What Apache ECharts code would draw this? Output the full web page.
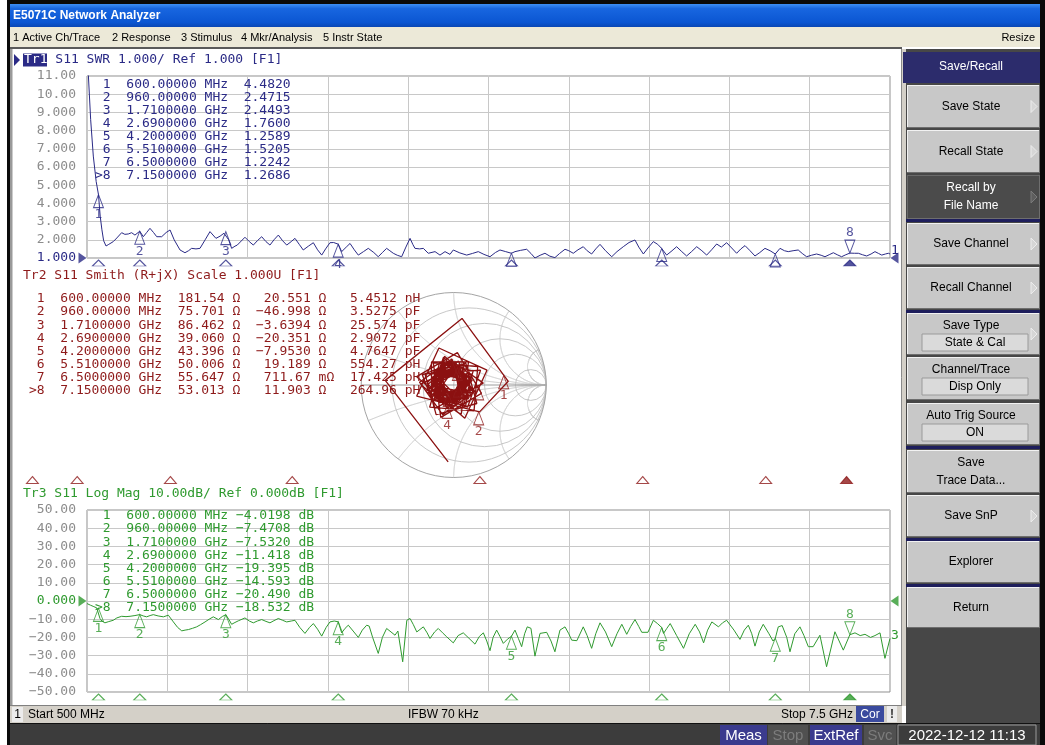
<!DOCTYPE html>
<html><head><meta charset="utf-8">
<script src="https://cdn.jsdelivr.net/npm/echarts@6/dist/echarts.min.js"></script>
<style>html,body{margin:0;padding:0;background:#fff;overflow:hidden}#c{width:1045px;height:745px}</style>
</head><body><div id="c"></div>
<script>
// ---------------- DATA ----------------
const mkNum = ['1','2','3','4','5','6','7','8'];
const mkFreq = [600, 960, 1710, 2690, 4200, 5510, 6500, 7150];           // MHz
const mkSwr = [4.4820, 2.4715, 2.4493, 1.7600, 1.2589, 1.5205, 1.2242, 1.2686];
const mkLogMag = [-4.0198, -7.4708, -7.5320, -11.418, -19.395, -14.593, -20.490, -18.532];
const mkR = [181.54, 75.701, 86.462, 39.060, 43.396, 50.006, 55.647, 53.013];
const mkX = [20.551, -46.998, -3.6394, -20.351, -7.9530, 19.189, 0.71167, 11.903];
const mkLC = [5.4512, 3.5275, 25.574, 2.9072, 4.7647, 554.27, 17.425, 264.96];
const mkLCUnit = ['nH','pF','pF','pF','pF','pH','pH','pH'];
const mkGammaRe = [0.54, 0.27, 0.27, -0.07, -0.06, 0.04, 0.05, 0.04];
const mkGammaIm = [0.10, -0.29, -0.02, -0.22, -0.09, 0.19, 0.01, 0.11];

const swrTicks = ['1.000','2.000','3.000','4.000','5.000','6.000','7.000','8.000','9.000','10.00','11.00'];
const lmTicks = ['\u221250.00','\u221240.00','\u221230.00','\u221220.00','\u221210.00','0.000','10.00','20.00','30.00','40.00','50.00'];
const smithGridR = [0.2, 0.5, 1, 2, 5];
const smithGridX = [0.2, 0.5, 1, 2, 5];

const swrFreq = [500,532,555,580,600,615,630,645,666,690,729,760,802,830,860,889,918,960,991,1020,1049,1080,1108,1151,1190,1224,1260,1311,1354,1385,1412,1450,1485,1530,1572,1624,1660,1694,1710,1735,1761,1790,1810,1877,1915,1950,1985,2023,2060,2095,2130,2168,2205,2241,2280,2313,2350,2385,2430,2473,2510,2546,2580,2618,2650,2690,2720,2760,2793,2830,2865,2910,2952,3000,3039,3075,3112,3140,3170,3205,3243,3280,3316,3340,3359,3400,3432,3475,3534,3577,3621,3664,3693,3750,3810,3860,3911,3960,4013,4060,4100,4150,4200,4231,4280,4333,4370,4405,4450,4492,4535,4579,4620,4667,4700,4739,4780,4826,4860,4899,4935,4972,5020,5074,5120,5175,5225,5277,5310,5350,5390,5437,5475,5510,5553,5600,5640,5685,5727,5770,5815,5860,5902,5945,5989,6030,6076,6120,6163,6200,6236,6280,6323,6365,6410,6455,6500,6541,6580,6613,6655,6700,6735,6773,6815,6860,6900,6933,6970,7006,7040,7078,7115,7150,7190,7224,7260,7297,7335,7369,7400,7428,7460,7486,7500];
const swrVal = [12.5,8.6,6.6,5.2,4.48,3.3,2.55,1.95,1.66,1.75,1.90,2.10,2.39,2.30,2.32,2.39,2.26,2.47,2.17,2.40,2.63,2.40,2.17,2.17,2.40,2.54,2.00,1.44,1.29,1.40,1.53,1.50,1.53,2.00,2.45,2.08,2.20,2.36,2.45,2.00,1.53,1.65,1.71,2.14,1.90,1.71,1.95,2.17,1.90,1.71,2.00,2.26,1.95,1.71,1.90,2.08,1.75,1.44,1.65,1.84,1.45,1.16,1.50,1.84,1.85,1.76,1.35,1.60,1.80,1.45,1.16,1.35,1.53,1.30,1.07,1.30,1.53,1.40,1.26,1.15,1.07,1.60,2.08,1.75,1.53,1.50,1.53,1.26,1.35,1.16,1.35,1.20,1.44,1.28,1.16,1.25,1.35,1.20,1.07,1.30,1.44,1.35,1.26,1.35,1.42,1.48,1.25,1.00,1.15,1.26,1.10,1.02,1.25,1.48,1.40,1.26,1.45,1.62,1.40,1.22,1.50,1.75,1.40,1.07,1.35,1.62,1.85,1.99,1.60,1.22,1.55,1.90,1.75,1.52,1.16,1.40,1.62,1.35,1.11,1.35,1.62,1.40,1.16,1.45,1.77,1.60,1.84,1.55,1.26,1.50,1.68,1.40,1.11,1.30,1.53,1.40,1.22,1.53,1.40,1.35,1.40,1.44,1.25,1.07,1.15,1.22,1.15,1.07,1.18,1.29,1.18,1.07,1.18,1.27,1.26,1.26,1.18,1.11,1.22,1.35,1.25,1.16,1.22,1.26,1.22];

const lmFreq = [500,530,560,585,600,613,630,656,690,729,760,802,840,875,918,960,990,1020,1050,1078,1120,1166,1209,1253,1290,1326,1355,1384,1420,1456,1490,1529,1565,1601,1645,1680,1710,1735,1761,1790,1819,1877,1915,1950,1985,2023,2060,2095,2130,2168,2205,2241,2280,2313,2355,2400,2440,2473,2510,2546,2585,2618,2655,2690,2720,2750,2778,2820,2865,2900,2938,2960,2990,3039,3075,3112,3150,3185,3210,3252,3288,3316,3345,3375,3432,3465,3490,3530,3562,3600,3636,3693,3735,3780,3830,3882,3920,3955,3985,4013,4040,4071,4100,4129,4165,4200,4231,4260,4289,4315,4338,4370,4405,4449,4507,4545,4579,4623,4667,4700,4725,4770,4826,4860,4899,4935,4972,5020,5074,5120,5162,5205,5240,5277,5310,5336,5390,5437,5475,5510,5526,5555,5584,5640,5700,5750,5802,5840,5875,5910,5947,6005,6040,6076,6140,6192,6230,6265,6295,6323,6360,6395,6445,6480,6500,6526,6560,6600,6628,6670,6715,6750,6788,6830,6889,6947,7020,7093,7150,7195,7240,7282,7330,7369,7413,7456,7500];
const lmVal = [-1.4,-2.3,-3.1,-3.8,-4.02,-9.6,-11.0,-12.0,-11.3,-10.6,-9.3,-8.4,-8.6,-8.4,-8.0,-7.47,-8.2,-8.7,-8.0,-7.5,-8.2,-8.7,-7.8,-11.5,-14.5,-16.4,-16.0,-15.7,-15.0,-14.2,-13.0,-11.5,-10.0,-8.7,-10.2,-8.5,-7.53,-10.0,-12.8,-11.8,-10.9,-9.3,-11.0,-12.0,-11.0,-10.2,-11.2,-12.0,-10.8,-9.6,-10.6,-11.5,-11.0,-10.6,-14.5,-17.8,-14.5,-12.4,-15.5,-19.3,-14.5,-11.5,-11.0,-11.42,-17.5,-15.0,-13.3,-16.5,-20.0,-16.0,-13.3,-13.8,-20.0,-28.8,-20.0,-15.1,-17.0,-18.8,-16.5,-33.4,-10.6,-9.6,-13.0,-17.0,-14.2,-17.5,-20.6,-17.0,-15.1,-17.5,-19.7,-23.0,-19.0,-17.5,-20.5,-23.7,-19.5,-17.5,-22.0,-27.3,-20.0,-16.0,-19.5,-23.3,-21.0,-19.4,-16.0,-20.5,-25.1,-18.0,-14.2,-15.0,-30.3,-17.8,-17.2,-22.0,-27.9,-16.0,-14.2,-18.0,-21.5,-21.8,-14.2,-19.0,-26.0,-18.0,-12.0,-17.0,-25.1,-18.0,-12.8,-18.3,-14.0,-10.2,-14.0,-17.2,-17.2,-10.6,-12.5,-14.6,-17.8,-15.0,-12.4,-19.0,-26.0,-18.0,-12.8,-17.0,-23.0,-16.0,-11.5,-14.2,-12.0,-10.6,-16.0,-21.1,-16.0,-13.3,-18.0,-24.8,-17.0,-12.8,-18.0,-22.0,-20.5,-14.2,-13.5,-20.0,-27.9,-18.0,-14.2,-19.0,-25.1,-25.1,-18.8,-36.1,-16.9,-27.0,-18.53,-17.5,-19.0,-18.3,-20.0,-19.0,-17.5,-31.5,-20.6];

const smithRe = [-0.06,-0.74,0.09,0.59,0.28,
 -0.40,-0.16,0.36,0.12, -0.40,0.04,0.30,-0.14, -0.22,0.26,0.22,-0.26, -0.10,0.20,-0.06,-0.36,
 0.13,0.25,-0.19,-0.31, 0.29,0.15,-0.25,-0.11, 0.23,-0.12,-0.37,-0.02, 0.16,-0.24,-0.24,0.16,
 0.08,-0.26,-0.02,0.32, -0.20,-0.34,0.02,0.16, -0.25,-0.15,0.21,0.11, -0.30,-0.03,0.20,-0.07,
 -0.18,0.15,0.18,-0.15, -0.12,0.18,0.00,-0.30, 0.05,0.19,-0.11,-0.25, 0.19,0.13,-0.21,-0.15,
 0.15,-0.07,-0.29,-0.07, 0.17,-0.15,-0.21,0.11, 0.02,-0.25,-0.12,0.15, -0.06,-0.21,0.06,0.21,
 -0.21,-0.19,0.09,0.07, -0.24,-0.05,0.18,-0.01, -0.18,0.08,0.15,-0.11, -0.16,0.11,0.02,-0.25,
 0.01,0.16,-0.05,-0.20, 0.09,0.09,-0.17,-0.17, 0.17,0.03,-0.17,-0.03, 0.10,-0.14,-0.22,0.02,
 0.06,-0.16,-0.10,0.12, -0.06,-0.21,-0.03,0.13, -0.10,-0.12,0.10,0.12, -0.21,-0.09,0.11,-0.01,
 -0.15,0.03,0.11,-0.07, -0.14,0.07,0.04,-0.17, 0.00,0.13,0.00,-0.13, 0.05,0.09,-0.11,-0.15, 0.04];
const smithIm = [-0.83,0.05,0.72,0.04,-0.29,
 -0.12,0.40,0.16,-0.36, 0.09,0.35,-0.09,-0.35, 0.24,0.20,-0.28,-0.24, 0.31,0.05,-0.25,0.01,
 0.24,-0.20,-0.32,0.12, 0.16,-0.24,-0.10,0.30, -0.07,-0.32,0.03,0.28, -0.15,-0.15,0.25,0.25,
 -0.32,-0.08,0.26,0.02, -0.25,0.11,0.25,-0.11, -0.11,0.25,0.15,-0.21, -0.01,0.22,-0.05,-0.28,
 0.18,0.21,-0.12,-0.15, 0.24,0.07,-0.24,-0.07, 0.26,-0.04,-0.18,0.12, 0.12,-0.22,-0.16,0.18,
 0.02,-0.20,0.02,0.24, -0.13,-0.19,0.13,0.19, -0.17,-0.04,0.23,0.10, -0.23,0.04,0.19,-0.08,
 -0.12,0.16,0.14,-0.14, 0.02,0.25,0.06,-0.17, 0.07,0.14,-0.13,-0.20, 0.18,0.09,-0.18,-0.09,
 0.21,0.00,-0.15,0.06, 0.12,-0.14,-0.14,0.12, 0.05,-0.15,-0.01,0.19, -0.08,-0.16,0.08,0.16,
 -0.10,-0.04,0.18,0.12, -0.19,0.00,0.15,0.00, -0.10,0.12,0.14,-0.08, -0.01,0.19,0.07,-0.13,
 0.04,0.12,-0.06,-0.14, 0.14,0.11,-0.10,-0.07, 0.17,0.04,-0.09,0.04, 0.15,-0.05,-0.09,0.11, 0.11];

// ---------------- STYLE ----------------
const MONO = '"DejaVu Sans Mono", monospace';
const SANS = '"Liberation Sans", Arial, sans-serif';
const F13 = '13px ' + MONO;
const F12 = '12px ' + SANS;
const F11 = '11px ' + SANS;
const NAVY = '#2a2a86', RED = '#8e1a1a', GREEN = '#2f9a2f', GRIDC = '#c8c8c8', LBL = '#8c8c8c';
const CW = 7.827;
const UP = 'path://M5,0L10,13L0,13Z', DOWN = 'path://M0,0L10,0L5,13Z';
const STIM = 'path://M6,0L12,7L0,7Z', REFR = 'path://M0,0L8,5.5L0,11Z', REFL = 'path://M8,0L0,5.5L8,11Z';

function freqStr(f){ return f < 1000 ? f.toFixed(5) + ' MHz' : (f/1000).toFixed(7) + ' GHz'; }
function n5(v){ return v.toPrecision(5).replace('-', '\u2212'); }

// ---------------- GRAPHIC CHROME ----------------
const G = [];
function R(x,y,w,h,fill,stroke){ G.push({type:'rect', silent:true, z:1, shape:{x:x,y:y,width:w,height:h}, style:{fill:fill, stroke:stroke||null, lineWidth:stroke?1:0}}); }
function T(x,y,text,font,fill,align){ G.push({type:'text', silent:true, z:6, style:{x:x,y:y,text:text,font:font,fill:fill, textAlign:align||'left', textVerticalAlign:'middle'}}); }
function L(x1,y1,x2,y2,stroke){ G.push({type:'line', silent:true, z:2, shape:{x1:x1,y1:y1,x2:x2,y2:y2}, style:{stroke:stroke, lineWidth:1}}); }
function P(pts,fill,stroke){ G.push({type:'polygon', silent:true, z:3, shape:{points:pts}, style:{fill:fill, stroke:stroke||null, lineWidth:1}}); }

// window frame
R(7,0,1038,4,'#0a0a0a'); R(7,0,3,745,'#0a0a0a'); R(1040,0,5,745,'#0a0a0a');
G.push({type:'rect', silent:true, z:1, shape:{x:10,y:4,width:1030,height:23}, style:{fill:{type:'linear',x:0,y:0,x2:0,y2:1,colorStops:[{offset:0,color:'#3d8ff6'},{offset:0.2,color:'#1866e0'},{offset:0.8,color:'#0b56d2'},{offset:1,color:'#0a47b4'}]}}});
T(13,16,'E5071C Network Analyzer','bold 12px '+SANS,'#ffffff');
R(10,27,1030,20,'#ece9d8');
T(13,38,'1 Active Ch/Trace',F11,'#000'); T(112,38,'2 Response',F11,'#000'); T(181,38,'3 Stimulus',F11,'#000');
T(241,38,'4 Mkr/Analysis',F11,'#000'); T(323,38,'5 Instr State',F11,'#000'); T(1035,38,'Resize',F11,'#000','right');
R(10,47,892,2,'#5a5a5a'); R(10,49,2.5,656,'#9a9a9a');
R(901,49,5,657,'#d4d0c8'); L(901.5,49,901.5,706,'#8a8a8a');

// soft keys
R(906,49,134,674,'#474747');
R(903,52,137,31,'#2c2c6c'); T(971,67,'Save/Recall',F12,'#ffffff','center');
function button(y,h,lines,o){
  o=o||{};
  const fill=o.dark?'#4b4b4b':'#c8c8c8', tc=o.dark?'#ffffff':'#000000';
  R(907,y,133,h,fill);
  L(907,y+0.5,1040,y+0.5,o.dark?'#6a6a6a':'#f2f2f2'); L(907.5,y,907.5,y+h,o.dark?'#6a6a6a':'#f2f2f2');
  L(907,y+h-0.5,1040,y+h-0.5,'#6e6e6e'); L(1039.5,y,1039.5,y+h,'#6e6e6e');
  if(o.box){ T(971,y+13,lines[0],F12,tc,'center'); R(922,y+21,106,17,'#dadada','#9a9a9a'); T(975,y+30,o.box,F12,'#000','center'); }
  else if(lines.length===2){ T(971,y+h/2-9,lines[0],F12,tc,'center'); T(971,y+h/2+9,lines[1],F12,tc,'center'); }
  else T(971,y+h/2,lines[0],F12,tc,'center');
  if(o.arrow) P([[1031,y+h/2-6],[1037,y+h/2],[1031,y+h/2+6]],o.dark?'#5e5e5e':'#d6d6d6',o.dark?'#7a7a7a':'#ececec');
}
button(85,43,['Save State'],{arrow:true});
button(130,43,['Recall State'],{arrow:true});
button(175,44,['Recall by','File Name'],{arrow:true,dark:true});
R(906,219,134,3,'#1e1e5c');
button(223,42,['Save Channel'],{arrow:true});
button(267,42,['Recall Channel'],{arrow:true});
R(906,310,134,3,'#1e1e5c');
button(313,42,['Save Type'],{arrow:true,box:'State & Cal'});
button(357,43,['Channel/Trace'],{box:'Disp Only'});
button(403,42,['Auto Trig Source'],{box:'ON'});
R(906,446,134,3,'#1e1e5c');
button(450,43,['Save','Trace Data...']);
button(495,42,['Save SnP'],{arrow:true});
R(906,538,134,3,'#1e1e5c');
button(541,42,['Explorer']);
R(906,584,134,3,'#1e1e5c');
button(587,41,['Return']);

// status bars
R(10,705,892,18,'#d4d0c8'); L(10,705.5,902,705.5,'#808080');
R(12,707,11,15,'#ececec'); T(17.5,714.5,'1',F12,'#000','center');
T(28,714.5,'Start 500 MHz',F12,'#000'); T(408,714.5,'IFBW 70 kHz',F12,'#000'); T(853,714.5,'Stop 7.5 GHz',F12,'#000','right');
R(856,706,28,16,'#3a4a9e'); T(870,714.5,'Cor',F12,'#ffffff','center');
R(887,706,10,16,'#ececec'); T(892,714.5,'!','bold 12px '+SANS,'#333','center');
R(10,723,1030,22,'#3c3c3c'); L(10,723.5,1040,723.5,'#111');
const F15 = '15px '+SANS;
R(720,725,47,20,'#3b3b8e'); T(743.5,735.5,'Meas',F15,'#ffffff','center');
R(768,725,40,20,'#505050'); T(788,735.5,'Stop',F15,'#7c7c7c','center');
R(810,725,52,20,'#3b3b8e'); T(836,735.5,'ExtRef',F15,'#ffffff','center');
R(864,725,32,20,'#505050'); T(880,735.5,'Svc',F15,'#7c7c7c','center');
R(898,725,138,20,'#3c3c3c','#9a9a9a'); T(967,735.5,'2022-12-12 11:13',F15,'#ffffff','center');

// trace titles
P([[14,54],[20,60],[14,66]],NAVY);
R(23,53.5,24,13,NAVY); T(24,60,'Tr1',F13,'#ffffff'); T(24+4*CW,60,'S11 SWR 1.000/ Ref 1.000 [F1]',F13,NAVY);
T(23,276,'Tr2 S11 Smith (R+jX) Scale 1.000U [F1]',F13,RED);
T(23,494,'Tr3 S11 Log Mag 10.00dB/ Ref 0.000dB [F1]',F13,GREEN);

// marker tables
mkFreq.forEach((f,i)=>{
  const pre = (i===7?'>':' ') + mkNum[i] + '  ' + freqStr(f);
  T(95, 85+i*12.95, pre + '  ' + mkSwr[i].toFixed(4), F13, NAVY);
  T(95, 516+i*13.1, pre + ' ' + n5(mkLogMag[i]).padStart(7) + ' dB', F13, GREEN);
  const xv = Math.abs(mkX[i]) < 1 ? n5(mkX[i]*1000) : n5(mkX[i]);
  const xu = Math.abs(mkX[i]) < 1 ? 'm\u03a9' : '\u03a9';
  const s = (pre + '  ' + n5(mkR[i]).padStart(6) + ' \u03a9' + '  ' + xv.padStart(7) + ' ' + xu).padEnd(41) + n5(mkLC[i]) + ' ' + mkLCUnit[i];
  T(29, 299+i*13.1, s, F13, RED);
});

// ---------------- SERIES ----------------
function axisY(gi,min,max,ticks,refVal,refColor){
  return {gridIndex:gi,type:'value',min:min,max:max,interval:(max-min)/10,
    axisLine:{show:false},axisTick:{show:false},
    splitLine:{show:true,lineStyle:{color:GRIDC,width:1}},
    axisLabel:{margin:11,formatter:v=>{const s=ticks[Math.round((v-min)/((max-min)/10))];return (Math.abs(v-refVal)<1e-9?'{r|':'{n|')+s+'}';},
      rich:{r:{color:refColor,fontFamily:MONO,fontSize:13},n:{color:LBL,fontFamily:MONO,fontSize:13}}}};
}
function axisX(gi){
  return {gridIndex:gi,type:'value',min:500,max:7500,interval:700,axisLabel:{show:false},axisTick:{show:false},axisLine:{show:false},
    splitLine:{show:true,lineStyle:{color:GRIDC,width:1}}};
}
function mkSeries(xi,yi,xs,ys,color,showLbl,active){
  const up=[],dn=[];
  xs.forEach((x,i)=>{const d={value:[x,ys[i]],name:mkNum[i],label:{show:showLbl[i]}};(i===active?dn:up).push(d);});
  const lab=pos=>({show:true,position:pos,distance:0,color:color,fontFamily:MONO,fontSize:13,formatter:p=>p.name});
  const base={type:'scatter',xAxisIndex:xi,yAxisIndex:yi,clip:false,z:5,silent:true,itemStyle:{color:'rgba(0,0,0,0)',borderColor:color,borderWidth:1}};
  return [Object.assign({},base,{data:up,symbol:UP,symbolSize:[10,13],symbolOffset:[0,6.5],label:lab('bottom')}),
          Object.assign({},base,{data:dn,symbol:DOWN,symbolSize:[10,13],symbolOffset:[0,-6.5],label:lab('top')})];
}
function stimSeries(xi,yi,yv,color,off,active){
  return {type:'scatter',xAxisIndex:xi,yAxisIndex:yi,clip:false,z:5,silent:true,symbol:STIM,symbolSize:[12,6],symbolOffset:[0,off],
    data:mkFreq.map((f,i)=>({value:[f,yv],itemStyle:i===active?{color:color,borderColor:color,borderWidth:1}:{color:'rgba(0,0,0,0)',borderColor:color,borderWidth:1}}))};
}
function refSeries(xi,yi,yv,color){
  return [{type:'scatter',xAxisIndex:xi,yAxisIndex:yi,clip:false,silent:true,z:5,symbol:REFR,symbolSize:[8,11],symbolOffset:[-4.5,0],itemStyle:{color:color},data:[[500,yv]]},
          {type:'scatter',xAxisIndex:xi,yAxisIndex:yi,clip:false,silent:true,z:5,symbol:REFL,symbolSize:[8,11],symbolOffset:[4.5,0],itemStyle:{color:color},data:[[7500,yv]]}];
}

const smithGrid = {type:'custom',xAxisIndex:1,yAxisIndex:1,data:[[0,0]],silent:true,z:1,clip:false,
  renderItem:(params,api)=>{
    const c=api.coord([0,0]); const u=api.size([1,1])[0];
    const px=(re,im)=>[c[0]+re*u,c[1]-im*u];
    const ch=[];
    smithGridR.forEach(r=>{const p=px(r/(1+r),0);ch.push({type:'circle',shape:{cx:p[0],cy:p[1],r:u/(1+r)},style:{fill:'none',stroke:GRIDC,lineWidth:1}});});
    smithGridX.forEach(x=>{[1,-1].forEach(s=>{const pts=[];for(let a=0;a<=3600;a++){const t=a*Math.PI/1800;const re=1+Math.cos(t)/x,im=s/x+Math.sin(t)/x;if(re*re+im*im<=1.0005)pts.push(px(re,im));}
      if(pts.length>1)ch.push({type:'polyline',shape:{points:pts},style:{fill:'none',stroke:GRIDC,lineWidth:1}});});});
    const a=px(-1,0),b=px(1,0);
    ch.push({type:'line',shape:{x1:a[0],y1:a[1],x2:b[0],y2:b[1]},style:{stroke:'#9c9c9c',lineWidth:1}});
    ch.push({type:'circle',shape:{cx:c[0],cy:c[1],r:u},style:{fill:'none',stroke:'#a4a4a4',lineWidth:1}});
    return {type:'group',children:ch};
  }};

const option = {
  animation:false,
  backgroundColor:'#ffffff',
  textStyle:{fontFamily:MONO},
  grid:[
    {left:87,top:76,width:803,height:182,show:true,borderColor:'#8e8e8e',borderWidth:1,backgroundColor:'rgba(0,0,0,0)'},
    {left:361.2,top:292.5,width:185,height:185},
    {left:87,top:510,width:803,height:182,show:true,borderColor:'#8e8e8e',borderWidth:1,backgroundColor:'rgba(0,0,0,0)'},
    {left:20,top:470,width:870,height:10}
  ],
  xAxis:[axisX(0),{gridIndex:1,type:'value',min:-1,max:1,show:false},axisX(2),{gridIndex:3,type:'value',min:500,max:7500,show:false}],
  yAxis:[axisY(0,1,11,swrTicks,1,NAVY),{gridIndex:1,type:'value',min:-1,max:1,show:false},axisY(2,-50,50,lmTicks,0,GREEN),{gridIndex:3,type:'value',min:0,max:1,show:false}],
  series:[
    {type:'line',xAxisIndex:0,yAxisIndex:0,data:swrFreq.map((f,i)=>[f,swrVal[i]]),symbol:'none',z:3,silent:true,
     lineStyle:{color:NAVY,width:1},endLabel:{show:true,formatter:'1',color:NAVY,fontFamily:MONO,fontSize:13,distance:1,offset:[0,-3]}},
    ...mkSeries(0,0,mkFreq,mkSwr,NAVY,[true,true,true,true,false,false,false,true],7),
    stimSeries(0,0,1,NAVY,5,7),
    ...refSeries(0,0,1,NAVY),
    smithGrid,
    {type:'line',xAxisIndex:1,yAxisIndex:1,data:smithRe.map((r,i)=>[r,smithIm[i]]),symbol:'none',z:3,silent:true,clip:false,
     lineStyle:{color:'#8b1010',width:1.3}},
    ...mkSeries(1,1,mkGammaRe,mkGammaIm,RED,[true,true,false,true,false,false,false,false],7),
    Object.assign(stimSeries(3,3,0,RED,0,7),{symbolSize:[12,7]}),
    {type:'line',xAxisIndex:2,yAxisIndex:2,data:lmFreq.map((f,i)=>[f,lmVal[i]]),symbol:'none',z:3,silent:true,
     lineStyle:{color:GREEN,width:1},endLabel:{show:true,formatter:'3',color:GREEN,fontFamily:MONO,fontSize:13,distance:1,offset:[0,-3]}},
    ...mkSeries(2,2,mkFreq,mkLogMag,GREEN,[true,true,true,true,true,true,true,true],7),
    stimSeries(2,2,-50,GREEN,5,7),
    ...refSeries(2,2,0,GREEN)
  ],
  graphic:{elements:G}
};
const chart = echarts.init(document.getElementById('c'));
chart.setOption(option);
</script>
</body></html>
